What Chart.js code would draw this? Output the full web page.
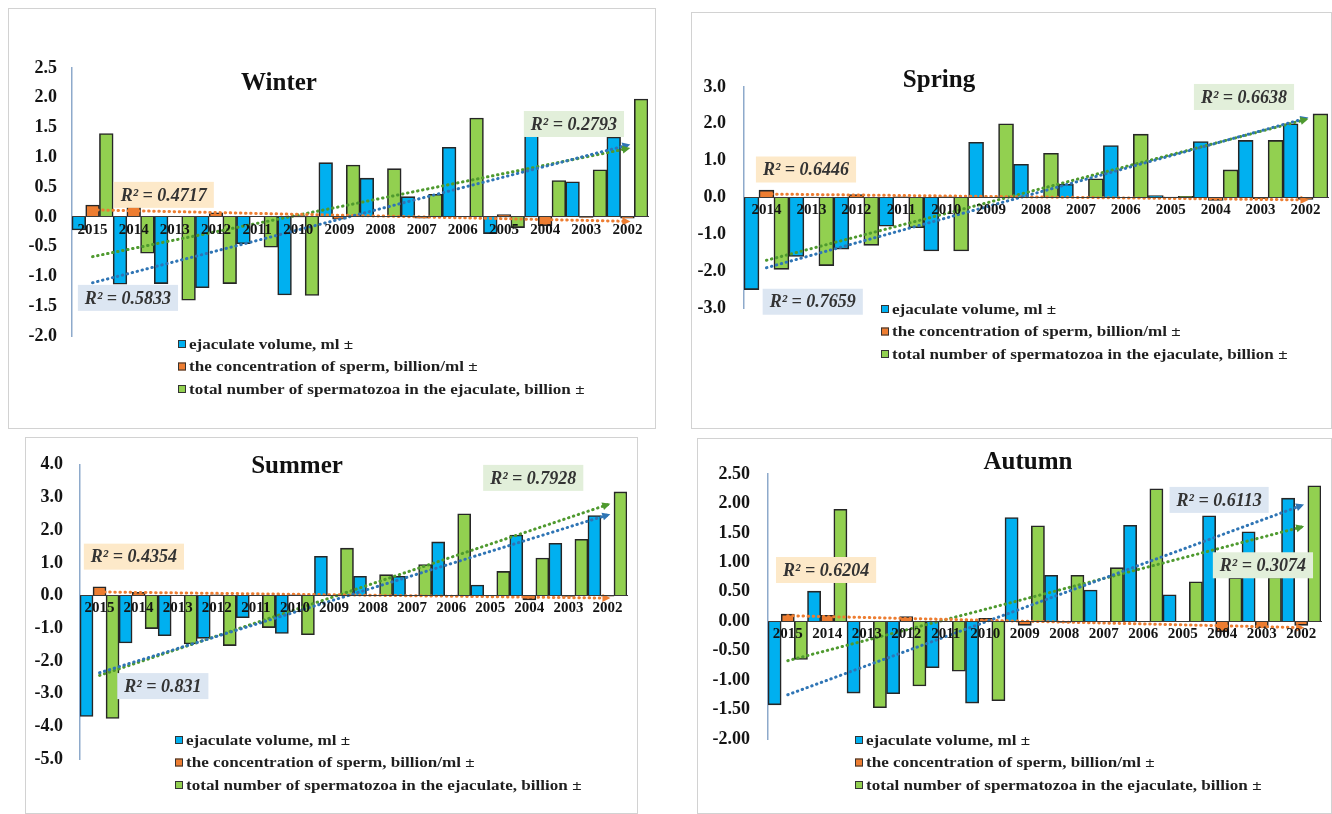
<!DOCTYPE html>
<html>
<head>
<meta charset="utf-8">
<script src="https://cdn.jsdelivr.net/npm/chart.js@4.4.1/dist/chart.umd.min.js"></script>
<style>
  html, body { margin: 0; padding: 0; background: #ffffff; width: 1332px; height: 814px; overflow: hidden; }
  .panel { position: absolute; box-sizing: border-box; border: 1px solid #d2d2d2; background: #ffffff; }
  .panel canvas { position: absolute; left: -1px; top: -1px; }
</style>
</head>
<body>
<div class="panel" style="left:8px;top:8px;width:648px;height:421px"><canvas id="winterChart" width="648" height="421"></canvas></div>
<div class="panel" style="left:691px;top:12px;width:641px;height:417px"><canvas id="springChart" width="641" height="417"></canvas></div>
<div class="panel" style="left:25px;top:437px;width:613px;height:377px"><canvas id="summerChart" width="613" height="377"></canvas></div>
<div class="panel" style="left:697px;top:438px;width:635px;height:376px"><canvas id="autumnChart" width="635" height="376"></canvas></div>
<script>
// ---- data -------------------------------------------------------------
const yearsFrom2015 = ['2015','2014','2013','2012','2011','2010','2009','2008','2007','2006','2005','2004','2003','2002'];
const yearsFrom2014 = ['2014','2013','2012','2011','2010','2009','2008','2007','2006','2005','2004','2003','2002'];

const seriesNames = [
  'ejaculate volume, ml \u00b1',
  'the concentration of sperm, billion/ml \u00b1',
  'total number of spermatozoa in the ejaculate, billion \u00b1'
];

const winterVolume        = [-0.22, -1.13, -1.12, -1.19, -0.45, -1.31, 0.91, 0.65, 0.34, 1.17, -0.28, 1.38, 0.59, 1.34];
const winterConcentration = [0.20, 0.18, 0.01, 0.07, 0.01, 0.02, -0.04, 0.01, -0.02, 0.00, 0.04, -0.15, -0.01, -0.02];
const winterTotal         = [1.40, -0.61, -1.40, -1.12, -0.51, -1.32, 0.87, 0.81, 0.38, 1.66, -0.18, 0.61, 0.79, 1.98];
const winterR2            = ['0.5833', '0.4717', '0.2793'];

const springVolume        = [-2.50, -1.60, -1.40, -0.78, -1.45, 1.50, 0.90, 0.36, 1.41, 0.05, 1.52, 1.55, 2.00];
const springConcentration = [0.20, 0.01, 0.08, 0.02, 0.02, 0.00, 0.01, 0.00, 0.00, 0.01, -0.08, -0.03, -0.05];
const springTotal         = [-1.95, -1.85, -1.30, -0.82, -1.45, 2.00, 1.20, 0.51, 1.72, 0.03, 0.75, 1.55, 2.27];
const springR2            = ['0.7659', '0.6446', '0.6638'];

const summerVolume        = [-3.70, -1.45, -1.23, -1.31, -0.68, -1.16, 1.20, 0.59, 0.59, 1.64, 0.32, 1.85, 1.60, 2.45];
const summerConcentration = [0.27, 0.10, 0.00, 0.02, 0.00, 0.02, 0.00, 0.00, 0.00, 0.00, 0.00, -0.13, -0.03, -0.02];
const summerTotal         = [-3.76, -1.01, -1.48, -1.53, -0.98, -1.20, 1.45, 0.64, 0.95, 2.50, 0.74, 1.15, 1.72, 3.17];
const summerR2            = ['0.831', '0.4354', '0.7928'];

const autumnVolume        = [-1.42, 0.51, -1.22, -1.23, -0.79, -1.39, 1.76, 0.78, 0.53, 1.63, 0.45, 1.79, 1.52, 2.09];
const autumnConcentration = [0.12, 0.10, 0.00, 0.08, 0.00, 0.05, -0.07, -0.02, 0.00, 0.00, 0.00, -0.18, -0.11, -0.07];
const autumnTotal         = [-0.65, 1.90, -1.47, -1.10, -0.85, -1.35, 1.62, 0.78, 0.91, 2.25, 0.67, 0.74, 0.75, 2.30];
const autumnR2            = ['0.6113', '0.6204', '0.3074'];

// ---- styling ----------------------------------------------------------
const barColors   = ['#00b0f0', '#ed7d31', '#92d050'];
const trendColors = ['#2f75b5', '#ed7d31', '#4f9a2f'];
const boxColors   = ['#dce6f2', '#fde9c9', '#e2efda'];
const SERIF = '"Liberation Serif", "Times New Roman", serif';

// least-squares linear trend evaluated at every category
function linearTrend(values) {
  const n = values.length;
  const mx = (n - 1) / 2;
  const my = values.reduce((a, b) => a + b, 0) / n;
  let sxy = 0, sxx = 0;
  values.forEach((v, i) => { sxy += (i - mx) * (v - my); sxx += (i - mx) * (i - mx); });
  const slope = sxy / sxx;
  return values.map((_, i) => my + slope * (i - mx));
}

// titles, R² boxes, trend arrowheads and the legend block
const panelDecor = {
  id: 'panelDecor',
  afterDatasetsDraw(chart, args, opts) {
    const ctx = chart.ctx;
    chart.data.datasets.forEach((ds, i) => {
      if (ds.type !== 'line') return;
      const pts = chart.getDatasetMeta(i).data;
      const p = pts[pts.length - 1], q = pts[pts.length - 2];
      const ang = Math.atan2(p.y - q.y, p.x - q.x);
      ctx.save();
      ctx.translate(p.x, p.y);
      ctx.rotate(ang);
      ctx.fillStyle = ds.borderColor;
      ctx.beginPath();
      ctx.moveTo(3, 0);
      ctx.lineTo(-5, -4);
      ctx.lineTo(-5, 4);
      ctx.closePath();
      ctx.fill();
      ctx.restore();
    });
  },
  afterDraw(chart, args, opts) {
    const ctx = chart.ctx;
    const xs = chart.scales.x, ys = chart.scales.y;
    ctx.save();
    // title
    ctx.font = 'bold 25px ' + SERIF;
    ctx.fillStyle = '#111111';
    ctx.textAlign = 'center';
    ctx.textBaseline = 'middle';
    ctx.fillText(opts.title, opts.titleAt[0], opts.titleAt[1]);

    // R² labels next to each trend line
    ctx.font = 'italic bold 18px ' + SERIF;
    opts.r2.forEach((txt, s) => {
      const label = 'R\u00b2 = ' + txt;
      const cx = xs.getPixelForValue(opts.r2At[s][0]);
      const cy = ys.getPixelForValue(opts.r2At[s][1]);
      const w = ctx.measureText(label).width + 14;
      const h = 26;
      ctx.fillStyle = boxColors[s];
      ctx.fillRect(cx - w / 2, cy - h / 2, w, h);
      ctx.fillStyle = '#333333';
      ctx.fillText(label, cx, cy + 1);
    });

    // legend
    ctx.font = 'bold 15px ' + SERIF;
    ctx.textAlign = 'left';
    const [lx, ly] = opts.legendAt;
    seriesNames.forEach((name, s) => {
      const y = ly + s * 22.5;
      ctx.fillStyle = barColors[s];
      ctx.fillRect(lx, y - 4, 8, 8);
      ctx.strokeStyle = '#333333';
      ctx.lineWidth = 1;
      ctx.strokeRect(lx + 0.5, y - 3.5, 7, 7);
      ctx.save();
      ctx.translate(lx + 11, y + 1);
      ctx.scale(1.14, 1);
      ctx.fillStyle = '#1f1f1f';
      ctx.fillText(name, 0, 0);
      ctx.restore();
    });
    ctx.restore();
  }
};

function buildSeasonChart(canvasId, p) {
  const barSets = p.series.map((vals, s) => ({
    type: 'bar',
    label: seriesNames[s],
    data: vals,
    backgroundColor: barColors[s],
    borderColor: '#262626',
    borderWidth: 1.6,
    categoryPercentage: 1.0,
    barPercentage: 1.0,
    order: 1
  }));
  const trendSets = p.series.map((vals, s) => ({
    type: 'line',
    label: 'trend ' + s,
    data: linearTrend(vals),
    borderColor: trendColors[s],
    borderWidth: 3,
    borderDash: [0.5, 4.6],
    borderCapStyle: 'round',
    pointRadius: 0,
    fill: false,
    tension: 0,
    order: -1
  }));

  return new Chart(document.getElementById(canvasId), {
    type: 'bar',
    data: { labels: p.labels, datasets: barSets.concat(trendSets) },
    options: {
      responsive: false,
      animation: false,
      events: [],
      layout: { padding: p.padding },
      plugins: {
        legend: { display: false },
        tooltip: { enabled: false },
        panelDecor: {
          title: p.title, titleAt: p.titleAt, legendAt: p.legendAt,
          r2: p.r2, r2At: p.r2At
        }
      },
      scales: {
        x: {
          type: 'category',
          position: { y: 0 },
          offset: true,
          grid: { display: false, drawTicks: false },
          border: { display: true, color: '#3a3a3a', width: 1, z: 1 },
          ticks: {
            z: 1,
            autoSkip: false,
            maxRotation: 0,
            padding: 4,
            color: '#141414',
            font: { family: SERIF, size: 15, weight: 'bold' }
          }
        },
        y: {
          position: 'left',
          min: p.yMin,
          max: p.yMax,
          afterFit(scale) { scale.width = p.axisWidth; },
          grid: { display: false, drawTicks: false },
          border: { display: true, color: '#8eaacb', width: 1.5 },
          ticks: {
            stepSize: p.step,
            padding: p.tickPad,
            color: '#141414',
            font: { family: SERIF, size: 18, weight: 'bold' },
            callback: (v) => Number(v).toFixed(p.decimals)
          }
        }
      }
    },
    plugins: [panelDecor]
  });
}

buildSeasonChart('winterChart', {
  labels: yearsFrom2015,
  series: [winterVolume, winterConcentration, winterTotal],
  r2: winterR2,
  r2At: [[0.86, -1.36], [1.73, 0.37], [11.7, 1.56]],
  yMin: -2, yMax: 2.5, step: 0.5, decimals: 1,
  axisWidth: 64, tickPad: 15,
  padding: { left: 0, top: 60, right: 8, bottom: 93 },
  title: 'Winter', titleAt: [271, 76], legendAt: [170, 336]
});

buildSeasonChart('springChart', {
  labels: yearsFrom2014,
  series: [springVolume, springConcentration, springTotal],
  r2: springR2,
  r2At: [[1.03, -2.83], [0.88, 0.76], [10.63, 2.73]],
  yMin: -3, yMax: 3, step: 1, decimals: 1,
  axisWidth: 53, tickPad: 18,
  padding: { left: 0, top: 75, right: 4, bottom: 121 },
  title: 'Spring', titleAt: [248, 69], legendAt: [190, 297]
});

buildSeasonChart('summerChart', {
  labels: yearsFrom2015,
  series: [summerVolume, summerConcentration, summerTotal],
  r2: summerR2,
  r2At: [[1.62, -2.77], [0.88, 1.19], [11.1, 3.6]],
  yMin: -5, yMax: 4, step: 1, decimals: 1,
  axisWidth: 55, tickPad: 17,
  padding: { left: 0, top: 22, right: 11, bottom: 55 },
  title: 'Summer', titleAt: [272, 30], legendAt: [150, 303]
});

buildSeasonChart('autumnChart', {
  labels: yearsFrom2015,
  series: [autumnVolume, autumnConcentration, autumnTotal],
  r2: autumnR2,
  r2At: [[10.92, 2.06], [0.97, 0.87], [12.03, 0.95]],
  yMin: -2, yMax: 2.5, step: 0.5, decimals: 2,
  axisWidth: 71, tickPad: 18,
  padding: { left: 0, top: 36, right: 11, bottom: 75 },
  title: 'Autumn', titleAt: [331, 25], legendAt: [158, 302]
});
</script>
</body>
</html>
